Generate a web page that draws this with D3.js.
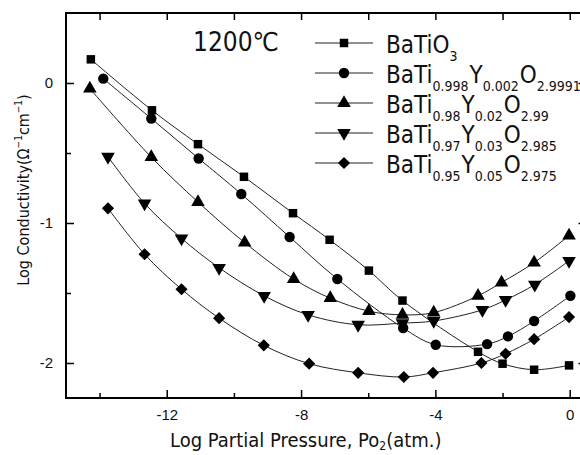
<!doctype html>
<html>
<head>
<meta charset="utf-8">
<title></title>
<script src="https://cdn.jsdelivr.net/npm/d3@7"></script>
<style>
  body { margin: 0; background: #fff; }
  svg text { font-family: "DejaVu Sans Condensed", "Liberation Sans", sans-serif; fill: #111; }
</style>
</head>
<body>
<div id="main"></div>
<script>
// data
var seriesNames = ['BaTiO3', 'BaTi0.998Y0.002O2.9991', 'BaTi0.98Y0.02O2.99', 'BaTi0.97Y0.03O2.985', 'BaTi0.95Y0.05O2.975'];
var sqX = [-14.26, -12.44, -11.07, -9.70, -8.24, -7.15, -5.98, -4.98, -2.73, -2.0, -1.06, -0.02];
var sqY = [0.169, -0.195, -0.437, -0.67, -0.93, -1.12, -1.34, -1.554, -1.92, -2.005, -2.048, -2.017];
var ciX = [-13.89, -12.46, -11.05, -9.78, -8.34, -6.92, -4.96, -3.99, -2.46, -1.84, -1.06, 0.02];
var ciY = [0.031, -0.254, -0.539, -0.793, -1.10, -1.40, -1.75, -1.87, -1.865, -1.81, -1.70, -1.52];
var upX = [-14.29, -12.46, -11.07, -9.68, -8.22, -7.13, -5.98, -4.98, -4.05, -2.73, -2.03, -1.06, -0.02];
var upY = [-0.04, -0.53, -0.85, -1.14, -1.40, -1.537, -1.63, -1.656, -1.64, -1.52, -1.425, -1.283, -1.09];
var dnX = [-13.75, -12.66, -11.56, -10.44, -9.10, -7.79, -6.30, -4.98, -4.05, -2.60, -1.91, -1.04, -0.02];
var dnY = [-0.527, -0.86, -1.11, -1.32, -1.52, -1.656, -1.727, -1.715, -1.70, -1.62, -1.55, -1.44, -1.27];
var diX = [-13.75, -12.66, -11.56, -10.44, -9.11, -7.76, -6.30, -4.94, -4.07, -2.63, -1.91, -1.06, -0.02];
var diY = [-0.895, -1.223, -1.473, -1.68, -1.874, -2.005, -2.07, -2.10, -2.07, -2.0, -1.934, -1.83, -1.672];
var xMajor = [-12, -8, -4, 0];
var xMinor = [-14, -10, -6, -2];
var yMajor = [-2, -1, 0];
var yMinor = [-1.5, -0.5];

var W = 580, H = 455;
var padL = 66, padT = 13, padR = 586.5, padB = 398;

var svg = d3.select('#main').append('svg')
  .attr('width', W)
  .attr('height', H);

var x = d3.scaleLinear().domain([-15, 0.5]).range([padL, padR]);
var y = d3.scaleLinear().domain([-2.25, 0.5]).range([padB, padT]);

// frame
svg.append('rect')
  .attr('x', padL).attr('y', padT)
  .attr('width', padR - padL).attr('height', padB - padT)
  .style('fill', 'none').style('stroke', '#000').style('stroke-width', 2);

// ticks, all pointing inward
var fmt = function(d) { return String(d); };
function styleAxis(g) {
  g.select('.domain').remove();
  g.selectAll('line').style('stroke', '#000').style('stroke-width', 1.5);
  g.selectAll('text').style('font-size', '15px').style('font-family', '"Liberation Sans", sans-serif').style('fill', '#111');
}
svg.append('g').attr('transform', 'translate(0,' + padB + ')')
  .call(d3.axisBottom(x).tickValues(xMajor).tickSize(-8).tickPadding(11).tickFormat(fmt)).call(styleAxis);
svg.append('g').attr('transform', 'translate(0,' + padB + ')')
  .call(d3.axisBottom(x).tickValues(xMinor).tickSize(-5).tickFormat('')).call(styleAxis);
svg.append('g').attr('transform', 'translate(0,' + padT + ')')
  .call(d3.axisTop(x).tickValues(xMajor.concat(xMinor)).tickSize(-7).tickFormat('')).call(styleAxis);
svg.append('g').attr('transform', 'translate(' + padL + ',0)')
  .call(d3.axisLeft(y).tickValues(yMajor).tickSize(-8).tickPadding(13).tickFormat(fmt)).call(styleAxis);
svg.append('g').attr('transform', 'translate(' + padL + ',0)')
  .call(d3.axisLeft(y).tickValues(yMinor).tickSize(-5).tickFormat('')).call(styleAxis);
svg.append('g').attr('transform', 'translate(' + padR + ',0)')
  .call(d3.axisRight(y).tickValues(yMajor).tickSize(-8).tickFormat('')).call(styleAxis);

// series
var series = [
  { xs: sqX, ys: sqY, sym: d3.symbolSquare, size: 72, rot: 0 },
  { xs: ciX, ys: ciY, sym: d3.symbolCircle, size: 85, rot: 0 },
  { xs: upX, ys: upY, sym: d3.symbolTriangle, size: 80, rot: 0 },
  { xs: dnX, ys: dnY, sym: d3.symbolTriangle, size: 80, rot: 180 },
  { xs: diX, ys: diY, sym: d3.symbolSquare, size: 74, rot: 45 }
];

var line = d3.line()
  .x(function(d) { return x(d[0]); })
  .y(function(d) { return y(d[1]); })
  .curve(d3.curveCatmullRom.alpha(0.5));

series.forEach(function(s) {
  var pts = s.xs.map(function(v, i) { return [v, s.ys[i]]; });
  svg.append('path').datum(pts)
    .attr('d', line)
    .style('fill', 'none').style('stroke', '#222').style('stroke-width', 1);
  svg.selectAll(null).data(pts).enter().append('path')
    .attr('d', d3.symbol().type(s.sym).size(s.size))
    .attr('transform', function(d) { return 'translate(' + x(d[0]) + ',' + y(d[1]) + ') rotate(' + s.rot + ')'; })
    .style('fill', '#000');
});

// legend
var legendParts = [
  [['BaTiO', ''], ['3', 's']],
  [['BaTi', ''], ['0.998', 's'], ['Y', ''], ['0.002', 's'], ['O', ''], ['2.9991', 's']],
  [['BaTi', ''], ['0.98', 's'], ['Y', ''], ['0.02', 's'], ['O', ''], ['2.99', 's']],
  [['BaTi', ''], ['0.97', 's'], ['Y', ''], ['0.03', 's'], ['O', ''], ['2.985', 's']],
  [['BaTi', ''], ['0.95', 's'], ['Y', ''], ['0.05', 's'], ['O', ''], ['2.975', 's']]
];
series.forEach(function(s, i) {
  var ly = 43 + i * 30;
  var g = svg.append('g').attr('class', 'legend').attr('data-name', seriesNames[i]);
  g.append('line').attr('x1', 315).attr('x2', 373).attr('y1', ly).attr('y2', ly)
    .style('stroke', '#222').style('stroke-width', 1);
  g.append('path')
    .attr('d', d3.symbol().type(s.sym).size(s.size))
    .attr('transform', 'translate(344,' + ly + ') rotate(' + s.rot + ')')
    .style('fill', '#000');
  var t = g.append('text').attr('x', 386).attr('y', ly + 10).style('font-size', '24px');
  var down = false;
  legendParts[i].forEach(function(p) {
    var ts = t.append('tspan').text(p[0]);
    if (p[1] === 's') {
      ts.style('font-size', '14px').attr('dy', down ? 0 : 8);
      down = true;
    } else {
      if (down) ts.attr('dy', -8).attr('dx', 1);
      down = false;
    }
  });
});

// temperature label
svg.append('text').attr('x', 193).attr('y', 51)
  .style('font-size', '26px').text('1200℃');

// axis titles
var xt = svg.append('text').attr('x', 170).attr('y', 447).style('font-size', '20px');
xt.append('tspan').text('Log Partial Pressure, Po');
xt.append('tspan').text('2').style('font-size', '12px').attr('dy', 3);
xt.append('tspan').text('(atm.)').attr('dy', -3);

var yt = svg.append('text')
  .attr('transform', 'translate(29,190) rotate(-90)')
  .attr('text-anchor', 'middle')
  .style('font-size', '16px');
yt.append('tspan').text('Log Conductivity(Ω');
yt.append('tspan').text('−1').style('font-size', '10px').attr('dy', -7);
yt.append('tspan').text('cm').attr('dy', 7);
yt.append('tspan').text('−1').style('font-size', '10px').attr('dy', -7);
yt.append('tspan').text(')').attr('dy', 7);
</script>
</body>
</html>
